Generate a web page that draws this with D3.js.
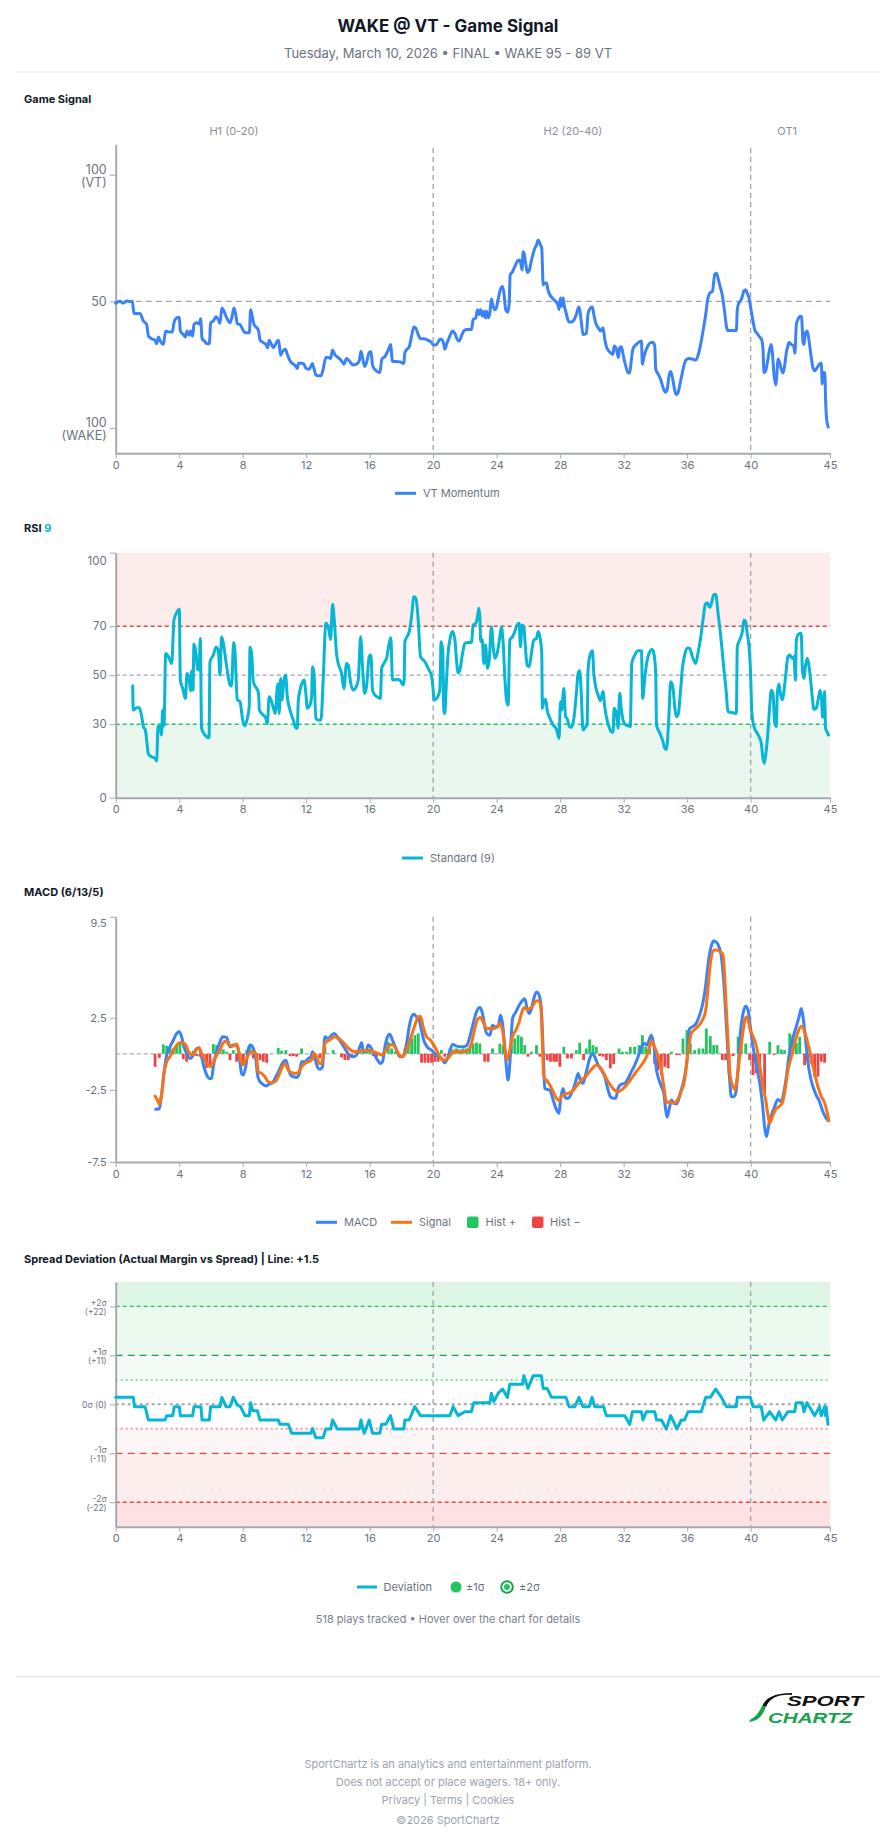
<!DOCTYPE html>
<html><head><meta charset="utf-8">
<script src="https://cdn.jsdelivr.net/npm/d3@7"></script>
<style>
body{margin:0;background:#fff;font-family:Inter,"Noto Sans",sans-serif;}
svg{display:block}
</style></head><body>
<svg id="c" width="896" height="1845"></svg>
<script>
// ---------------- DATA ----------------
const xTicks = [0,4,8,12,16,20,24,28,32,36,40,45];
const periodNames = ["H1 (0-20)","H2 (20-40)","OT1"];
const periodLabelAt = [7.45, 28.8, 42.3];
const periodBreaks = [20, 40];

const signalTicks = [0, 50, 100];
const signalTickLabels = [["100","(WAKE)"],["50"],["100","(VT)"]];
// VT momentum: 100 = VT, 0 = WAKE
const gameSignal = [[0,49.3],[0.27,50],[0.48,49.3],[0.69,50.1],[0.90,49.9],[1.05,50],[1.15,45.2],[1.53,45.2],[1.74,42.2],[1.95,40.9],[2.06,36.3],[2.27,35.2],[2.48,34.6],[2.58,33.3],[2.69,35.9],[2.83,34.1],[3.00,33.0],[3.15,38.3],[3.32,37.9],[3.57,37.9],[3.67,41.5],[3.84,43.5],[4.01,43.7],[4.07,38.3],[4.26,36.9],[4.39,35.9],[4.49,38.3],[4.62,36.6],[4.72,38.3],[4.85,36.3],[4.93,40.9],[5.10,41.5],[5.27,41.1],[5.35,43.1],[5.44,35.4],[5.62,34.1],[5.73,33.3],[5.90,33.3],[5.98,41.5],[6.15,42.2],[6.32,43.9],[6.46,42.8],[6.57,41.3],[6.69,47.4],[6.82,46.1],[6.99,43.5],[7.20,41.5],[7.37,45.2],[7.45,47.4],[7.58,44.1],[7.66,41.1],[7.83,40.9],[8.00,38.9],[8.14,37.6],[8.42,37.6],[8.50,46.7],[8.58,44.8],[8.71,40.9],[8.88,39.6],[9.00,38.5],[9.09,34.7],[9.30,33.7],[9.46,33.0],[9.57,31.7],[9.67,34.6],[9.78,33.4],[9.93,31.7],[10.05,32.8],[10.18,34.3],[10.26,34.6],[10.39,28.7],[10.51,30.2],[10.68,31.1],[10.81,29.1],[10.98,26.5],[11.19,25.2],[11.33,24.5],[11.44,23.5],[11.52,25.6],[11.71,25.6],[11.86,25.2],[11.98,23.6],[12.13,23.2],[12.24,23.6],[12.38,25.5],[12.49,23.5],[12.61,20.9],[12.76,20.6],[12.93,20.6],[13.07,23.2],[13.24,27.8],[13.39,27.8],[13.54,27.4],[13.66,30.8],[13.81,28.9],[14.02,27.8],[14.23,26.5],[14.38,25.2],[14.54,27.4],[14.75,26.2],[14.96,24.9],[15.17,25.2],[15.34,26.5],[15.45,30.3],[15.55,27.8],[15.68,24.3],[15.80,25.8],[15.97,29.8],[16.08,30.2],[16.18,24.8],[16.33,23.0],[16.47,22.3],[16.64,21.9],[16.77,27.2],[16.96,28.2],[17.10,29.8],[17.23,31.7],[17.31,33.0],[17.44,26.2],[17.65,26.2],[17.90,26.1],[18.15,25.5],[18.22,29.8],[18.36,31.1],[18.49,32.0],[18.64,36.3],[18.78,39.9],[18.91,39.3],[19.06,36.9],[19.20,35.2],[19.41,35.2],[19.69,34.6],[19.90,33.7],[20.00,32.8],[20.21,32.9],[20.42,35.0],[20.52,35.0],[20.67,33.0],[20.73,31.1],[20.88,33.7],[21.05,36.3],[21.22,38.3],[21.37,37.3],[21.51,35.0],[21.64,34.3],[21.78,36.3],[21.93,38.3],[22.10,38.9],[22.41,38.9],[22.52,42.8],[22.69,43.5],[22.79,46.7],[22.90,44.8],[22.98,46.7],[23.11,44.1],[23.19,46.1],[23.30,43.5],[23.36,46.1],[23.48,43.5],[23.57,45.4],[23.67,50.9],[23.78,48.0],[23.88,46.7],[23.99,47.7],[24.09,50.7],[24.24,54.8],[24.37,55.9],[24.47,52.6],[24.57,46.7],[24.70,45.7],[24.79,49.3],[24.85,60.4],[25.00,61.7],[25.14,63.7],[25.29,65.7],[25.42,66.3],[25.52,65.0],[25.60,62.4],[25.67,69.6],[25.73,68.9],[25.84,64.4],[25.94,61.4],[26.05,62.1],[26.15,65.0],[26.30,68.9],[26.40,70.9],[26.51,72.2],[26.61,74.2],[26.72,72.8],[26.84,70.9],[26.93,56.5],[27.03,57.2],[27.14,57.2],[27.24,54.3],[27.35,52.6],[27.56,50.9],[27.77,49.6],[27.89,48.0],[27.93,46.7],[28.02,51.3],[28.10,48.0],[28.18,51.3],[28.27,48.0],[28.40,44.8],[28.56,41.8],[28.71,41.8],[28.86,42.6],[29.02,44.8],[29.17,47.8],[29.23,46.7],[29.34,41.5],[29.44,36.9],[29.65,37.3],[29.76,45.2],[29.91,47.4],[30.03,47.8],[30.12,44.8],[30.24,41.5],[30.39,39.6],[30.56,38.3],[30.70,39.6],[30.81,35.0],[30.91,32.1],[31.06,30.4],[31.23,29.4],[31.33,29.1],[31.40,32.4],[31.54,31.3],[31.67,27.8],[31.75,31.7],[31.86,32.1],[31.96,29.1],[32.13,24.5],[32.28,21.9],[32.38,21.7],[32.49,27.2],[32.59,31.3],[32.80,33.0],[33.01,34.1],[33.12,34.3],[33.18,25.2],[33.27,27.8],[33.39,30.4],[33.54,32.6],[33.71,33.7],[33.85,33.7],[33.96,32.4],[34.02,23.2],[34.17,21.3],[34.32,19.3],[34.48,16.1],[34.63,14.1],[34.73,14.8],[34.86,20.6],[34.96,22.3],[35.11,18.7],[35.22,14.8],[35.32,13.2],[35.45,14.4],[35.57,18.0],[35.70,21.9],[35.84,25.6],[35.99,27.2],[36.16,27.4],[36.33,27.2],[36.54,26.8],[36.68,28.5],[36.83,32.4],[37.00,38.3],[37.17,44.8],[37.31,51.3],[37.46,53.5],[37.59,53.9],[37.74,60.7],[37.84,61.1],[37.95,59.1],[38.05,56.5],[38.22,52.3],[38.37,45.4],[38.47,40.2],[38.57,38.5],[39.10,38.5],[39.16,46.7],[39.25,49.3],[39.35,50.0],[39.48,52.0],[39.58,54.2],[39.69,54.6],[39.77,53.5],[39.90,51.3],[40.04,46.1],[40.15,42.2],[40.27,38.6],[40.42,37.3],[40.57,35.9],[40.69,35.0],[40.78,31.1],[40.84,21.9],[40.95,22.6],[41.05,25.8],[41.20,31.1],[41.30,33.0],[41.37,29.8],[41.47,21.3],[41.58,17.0],[41.66,21.9],[41.72,27.2],[41.83,25.8],[41.93,23.2],[42.04,21.7],[42.14,24.5],[42.25,29.8],[42.35,32.4],[42.41,33.7],[42.56,33.0],[42.71,32.4],[42.79,29.5],[42.88,40.9],[42.98,42.8],[43.13,44.1],[43.21,43.9],[43.30,33.7],[43.36,33.0],[43.46,37.6],[43.57,38.3],[43.71,33.0],[43.82,27.8],[43.92,23.9],[44.03,22.6],[44.20,23.9],[44.34,25.2],[44.45,25.6],[44.51,17.4],[44.60,21.9],[44.68,21.7],[44.72,11.5],[44.81,2.3],[44.89,0.4]];

const rsiTicks = [0,30,50,70,100];
const rsiStandard = [[1.07,45.7],[1.11,35.8],[1.32,36.7],[1.49,36.7],[1.64,33.1],[1.74,29.0],[1.87,27.6],[1.95,23.5],[2.06,17.8],[2.27,16.7],[2.48,16.1],[2.58,15.0],[2.67,29.3],[2.79,29.0],[2.88,25.6],[2.96,35.8],[3.04,29.3],[3.15,58.9],[3.32,57.6],[3.53,54.8],[3.67,72.5],[3.84,75.5],[4.01,76.9],[4.07,48.0],[4.22,44.6],[4.39,40.5],[4.49,50.7],[4.62,48.7],[4.72,43.7],[4.78,51.7],[4.87,43.9],[4.93,62.7],[5.06,58.9],[5.16,52.4],[5.25,52.1],[5.33,65.0],[5.41,28.3],[5.62,25.6],[5.73,24.9],[5.88,24.5],[5.94,55.5],[6.15,58.2],[6.32,61.4],[6.46,60.3],[6.57,50.1],[6.67,65.7],[6.78,63.0],[6.99,53.5],[7.20,46.0],[7.30,45.6],[7.43,63.3],[7.51,60.3],[7.66,39.9],[7.83,39.2],[8.00,31.7],[8.14,29.3],[8.29,32.4],[8.41,37.1],[8.46,61.4],[8.56,58.9],[8.67,47.3],[8.88,44.6],[9.00,42.6],[9.05,35.8],[9.30,33.7],[9.46,32.4],[9.55,30.3],[9.67,41.2],[9.82,39.2],[9.97,35.8],[10.05,34.4],[10.18,45.3],[10.24,46.4],[10.30,34.4],[10.39,48.7],[10.47,39.9],[10.60,48.0],[10.70,50.1],[10.81,41.2],[10.98,35.8],[11.19,31.7],[11.33,28.7],[11.44,28.3],[11.50,39.2],[11.61,43.9],[11.77,47.3],[11.86,48.0],[11.98,42.6],[12.07,36.5],[12.19,37.1],[12.34,41.2],[12.40,53.5],[12.49,50.7],[12.61,32.4],[12.76,31.7],[12.93,31.7],[13.07,48.0],[13.24,71.2],[13.39,69.8],[13.54,64.6],[13.66,79.0],[13.77,72.5],[13.91,58.9],[14.02,54.8],[14.23,50.7],[14.38,44.6],[14.54,54.8],[14.65,54.1],[14.79,47.3],[14.96,43.9],[15.13,45.0],[15.28,48.0],[15.43,65.7],[15.55,53.5],[15.68,42.6],[15.80,45.3],[15.97,57.6],[16.08,58.2],[16.18,43.9],[16.33,41.9],[16.54,41.0],[16.68,40.5],[16.75,52.8],[16.96,55.5],[17.06,56.9],[17.23,63.0],[17.33,65.3],[17.44,48.0],[17.69,48.3],[17.90,48.0],[18.11,46.0],[18.17,48.0],[18.22,63.7],[18.49,67.8],[18.64,73.9],[18.78,82.0],[18.91,81.4],[19.06,72.5],[19.20,57.6],[19.48,55.5],[19.69,52.8],[19.90,49.4],[20.00,43.9],[20.04,39.9],[20.21,40.5],[20.42,43.9],[20.50,63.7],[20.60,60.3],[20.67,35.8],[20.73,34.4],[20.84,48.0],[20.94,58.9],[21.09,65.7],[21.22,67.8],[21.37,64.4],[21.47,56.2],[21.57,51.0],[21.68,52.1],[21.85,58.9],[22.00,63.0],[22.21,63.3],[22.41,63.3],[22.52,70.5],[22.69,71.2],[22.79,73.9],[22.88,77.3],[22.94,73.9],[23.00,63.7],[23.09,64.6],[23.19,54.8],[23.30,62.3],[23.42,52.8],[23.53,56.2],[23.67,69.8],[23.78,61.6],[23.88,56.9],[24.03,58.9],[24.20,65.7],[24.30,69.8],[24.41,63.0],[24.53,47.3],[24.62,39.9],[24.72,37.8],[24.83,64.4],[25.00,65.7],[25.14,67.8],[25.29,70.5],[25.42,71.2],[25.50,61.6],[25.60,70.5],[25.71,69.8],[25.81,61.6],[25.92,54.1],[26.05,53.5],[26.19,58.9],[26.34,64.4],[26.51,65.0],[26.61,67.8],[26.76,64.4],[26.84,58.9],[26.88,36.5],[26.99,39.9],[27.09,40.1],[27.18,35.8],[27.35,32.4],[27.56,29.7],[27.77,27.9],[27.93,24.2],[28.02,39.2],[28.10,35.8],[28.23,44.6],[28.34,33.1],[28.44,32.4],[28.59,29.0],[28.71,28.7],[28.88,33.1],[29.02,42.6],[29.13,50.7],[29.23,51.8],[29.34,41.2],[29.44,27.6],[29.61,29.0],[29.70,29.7],[29.76,52.1],[29.86,57.6],[30.03,60.0],[30.12,50.7],[30.24,45.3],[30.39,41.9],[30.53,39.6],[30.70,43.3],[30.81,37.1],[30.91,33.1],[31.06,29.3],[31.23,26.9],[31.33,26.7],[31.40,36.5],[31.54,34.4],[31.65,28.3],[31.75,42.6],[31.86,35.8],[31.96,31.7],[32.13,29.7],[32.34,29.3],[32.42,29.0],[32.51,54.8],[32.70,58.2],[32.91,60.0],[33.12,60.0],[33.20,40.5],[33.33,48.7],[33.43,54.1],[33.60,58.9],[33.79,60.5],[33.90,58.9],[34.02,50.7],[34.07,29.7],[34.28,26.3],[34.45,23.5],[34.60,20.1],[34.69,19.7],[34.84,31.7],[34.96,47.3],[35.11,44.6],[35.22,37.1],[35.32,33.1],[35.45,34.4],[35.57,42.6],[35.70,52.8],[35.84,58.2],[35.99,61.0],[36.16,61.0],[36.33,57.6],[36.54,54.8],[36.68,58.9],[36.83,64.4],[37.00,72.5],[37.15,79.0],[37.27,79.6],[37.42,77.7],[37.53,79.3],[37.67,82.7],[37.80,83.0],[37.95,75.2],[38.12,65.7],[38.30,53.5],[38.47,42.6],[38.57,35.1],[38.89,34.7],[39.10,34.4],[39.16,61.6],[39.31,64.4],[39.48,67.8],[39.58,72.5],[39.69,71.8],[39.77,67.8],[39.90,61.6],[39.98,53.5],[40.08,34.4],[40.21,29.0],[40.36,26.9],[40.53,24.9],[40.67,22.2],[40.78,16.1],[40.86,14.0],[40.95,17.4],[41.09,26.9],[41.20,37.1],[41.30,43.9],[41.41,42.6],[41.51,31.0],[41.62,29.0],[41.68,42.6],[41.78,46.4],[41.87,42.6],[41.99,39.9],[42.08,42.6],[42.20,49.4],[42.35,57.6],[42.46,58.2],[42.62,56.9],[42.73,57.6],[42.82,48.0],[42.88,64.4],[43.03,66.8],[43.19,67.1],[43.26,52.1],[43.36,48.7],[43.46,54.1],[43.57,56.9],[43.67,54.1],[43.78,48.0],[43.88,41.2],[43.99,36.1],[44.13,36.5],[44.28,41.0],[44.38,43.9],[44.47,39.9],[44.53,32.8],[44.60,35.8],[44.66,43.3],[44.72,28.3],[44.81,26.9],[44.91,25.6]];

const macdTicks = [-7.5,-2.5,2.5,9.5];
const macdLine = [[2.52,-3.85],[2.75,-3.80],[2.90,-2.74],[3.04,-1.36],[3.21,-0.09],[3.42,0.48],[3.63,0.94],[3.84,1.41],[4.01,1.52],[4.15,1.18],[4.30,0.48],[4.47,0.02],[4.68,-0.32],[4.89,-0.09],[5.10,0.37],[5.27,0.37],[5.41,-0.21],[5.56,-0.90],[5.73,-1.47],[5.90,-1.71],[6.04,-1.71],[6.15,-0.90],[6.32,0.02],[6.53,0.71],[6.74,1.18],[6.99,1.13],[7.20,0.48],[7.41,0.60],[7.62,0.60],[7.79,-0.21],[7.93,-1.36],[8.04,-1.47],[8.21,-0.78],[8.36,0.37],[8.50,0.60],[8.67,0.37],[8.84,-0.44],[8.92,-1.36],[9.05,-1.87],[9.26,-2.10],[9.46,-2.24],[9.67,-2.10],[9.88,-2.00],[10.09,-1.59],[10.30,-1.13],[10.51,-0.62],[10.72,-0.44],[10.87,-1.01],[11.02,-1.47],[11.19,-1.59],[11.40,-1.64],[11.54,-1.47],[11.71,-0.55],[11.92,-0.55],[12.13,-0.32],[12.28,-0.25],[12.40,0.14],[12.55,-0.32],[12.72,-0.94],[12.86,-1.08],[13.03,-0.90],[13.18,1.18],[13.39,1.06],[13.60,1.29],[13.77,1.41],[13.96,1.18],[14.17,0.83],[14.44,0.37],[14.71,-0.09],[14.96,-0.21],[15.17,-0.09],[15.38,0.48],[15.49,0.76],[15.59,0.25],[15.76,0.14],[15.91,0.60],[16.05,0.48],[16.26,0.02],[16.47,-0.39],[16.68,-0.67],[16.81,-0.55],[16.96,0.48],[17.12,1.18],[17.27,1.36],[17.44,0.94],[17.69,0.25],[17.90,-0.21],[18.07,-0.21],[18.22,0.14],[18.36,0.94],[18.49,1.87],[18.64,2.56],[18.78,2.74],[18.95,2.56],[19.12,2.33],[19.26,1.64],[19.41,0.94],[19.62,0.48],[19.90,0.25],[20.10,0.02],[20.31,-0.21],[20.52,-0.32],[20.73,-0.62],[20.94,-0.21],[21.22,0.65],[21.47,0.53],[21.78,0.48],[22.10,0.55],[22.31,1.18],[22.52,2.10],[22.73,2.90],[22.94,3.20],[23.11,2.79],[23.25,1.87],[23.40,1.36],[23.57,1.29],[23.74,1.98],[23.88,1.87],[24.09,1.87],[24.24,2.67],[24.37,2.10],[24.51,0.48],[24.62,-1.01],[24.72,-1.82],[24.83,-0.67],[25.00,2.44],[25.21,2.90],[25.42,3.36],[25.63,3.71],[25.77,3.82],[25.92,3.13],[26.05,2.79],[26.19,3.13],[26.34,3.82],[26.51,4.29],[26.68,4.06],[26.82,3.02],[26.93,0.25],[27.03,-2.40],[27.18,-2.47],[27.35,-2.51],[27.56,-3.20],[27.77,-3.89],[27.93,-4.12],[28.02,-3.20],[28.18,-2.40],[28.35,-3.09],[28.50,-3.09],[28.71,-2.74],[28.92,-2.17],[29.13,-1.36],[29.27,-1.82],[29.44,-2.05],[29.65,-1.24],[29.86,-0.32],[30.03,0.02],[30.18,-0.21],[30.39,-0.78],[30.60,-1.13],[30.81,-1.59],[31.02,-2.51],[31.16,-2.97],[31.33,-3.09],[31.50,-3.09],[31.65,-2.40],[31.86,-2.10],[32.07,-2.05],[32.28,-1.71],[32.49,-1.24],[32.70,-0.78],[32.91,-0.21],[33.12,0.48],[33.33,0.71],[33.48,0.60],[33.60,0.94],[33.75,1.29],[33.90,0.60],[34.07,-1.13],[34.23,-1.82],[34.38,-2.28],[34.53,-2.74],[34.65,-3.89],[34.74,-4.40],[34.86,-3.89],[35.01,-3.20],[35.15,-3.39],[35.32,-3.48],[35.49,-3.09],[35.63,-2.51],[35.84,-1.59],[35.99,-0.44],[36.16,1.75],[36.33,1.87],[36.54,2.05],[36.75,2.56],[36.96,3.36],[37.13,4.40],[37.25,5.55],[37.38,6.71],[37.53,7.51],[37.67,7.81],[37.84,7.74],[38.01,7.40],[38.16,6.71],[38.30,5.09],[38.43,2.79],[38.57,0.02],[38.68,-1.82],[38.78,-2.97],[38.93,-2.97],[39.06,-2.74],[39.21,-0.90],[39.35,1.41],[39.52,2.79],[39.69,3.29],[39.84,3.02],[39.98,1.87],[40.15,0.48],[40.32,-0.55],[40.46,-1.36],[40.61,-2.28],[40.74,-3.43],[40.88,-5.05],[40.99,-5.74],[41.09,-5.28],[41.20,-4.59],[41.35,-4.12],[41.51,-3.66],[41.72,-3.16],[41.93,-3.32],[42.08,-2.74],[42.25,-1.59],[42.41,-0.21],[42.62,0.94],[42.84,1.75],[43.05,2.56],[43.19,3.13],[43.30,2.56],[43.44,1.18],[43.61,-0.55],[43.76,-1.59],[43.93,-2.28],[44.13,-2.86],[44.34,-3.32],[44.55,-4.01],[44.72,-4.40],[44.89,-4.63]];

const signalLine = [[2.48,-2.93],[2.62,-3.20],[2.75,-3.48],[2.90,-2.74],[3.04,-1.36],[3.21,-0.55],[3.42,-0.21],[3.63,0.25],[3.84,0.60],[4.05,0.78],[4.26,0.76],[4.47,0.48],[4.64,0.02],[4.85,-0.09],[5.06,0.25],[5.25,0.44],[5.41,0.02],[5.62,-0.44],[5.83,-0.78],[5.98,-0.90],[6.15,-0.55],[6.36,-0.09],[6.57,0.25],[6.74,0.71],[6.95,0.88],[7.16,0.60],[7.37,0.53],[7.62,0.67],[7.79,0.02],[8.00,-0.78],[8.21,-0.44],[8.42,0.02],[8.63,0.14],[8.84,0.02],[8.98,-1.24],[9.19,-1.36],[9.40,-1.59],[9.61,-1.94],[9.82,-2.00],[10.03,-1.94],[10.24,-1.59],[10.45,-1.01],[10.66,-0.67],[10.87,-1.13],[11.08,-1.31],[11.29,-1.36],[11.50,-1.31],[11.71,-0.90],[11.92,-0.67],[12.13,-0.55],[12.34,-0.44],[12.49,0.02],[12.66,-0.21],[12.83,-0.67],[12.97,-0.67],[13.18,0.71],[13.39,0.90],[13.60,1.06],[13.81,1.18],[14.02,1.06],[14.30,0.83],[14.54,0.53],[14.86,0.21],[15.17,0.14],[15.49,0.21],[15.80,0.21],[16.01,0.25],[16.26,0.14],[16.54,0.02],[16.75,-0.09],[16.96,0.14],[17.17,0.48],[17.38,0.65],[17.59,0.48],[17.80,0.02],[18.01,-0.21],[18.22,0.02],[18.43,0.60],[18.64,1.29],[18.85,1.98],[19.06,2.56],[19.20,2.60],[19.37,1.87],[19.58,1.18],[19.79,0.99],[20.00,0.67],[20.21,0.25],[20.42,-0.21],[20.63,-0.44],[20.84,-0.40],[21.05,-0.16],[21.26,0.14],[21.57,0.14],[21.89,0.14],[22.21,0.25],[22.41,0.71],[22.62,1.75],[22.83,2.44],[22.98,2.51],[23.15,2.21],[23.36,1.75],[23.57,1.75],[23.78,1.75],[23.99,1.82],[24.20,2.10],[24.37,1.64],[24.51,0.37],[24.66,-0.44],[24.83,0.25],[25.00,1.18],[25.21,1.64],[25.42,2.21],[25.63,3.02],[25.77,3.20],[25.92,3.06],[26.09,3.13],[26.30,3.36],[26.46,3.66],[26.68,3.66],[26.78,3.25],[26.89,0.48],[26.97,-1.59],[27.14,-1.82],[27.35,-2.17],[27.56,-2.63],[27.77,-3.09],[27.93,-3.25],[28.08,-2.97],[28.29,-2.79],[28.50,-2.74],[28.71,-2.63],[28.92,-2.40],[29.13,-2.10],[29.34,-1.82],[29.55,-1.64],[29.76,-1.36],[30.03,-1.01],[30.28,-0.78],[30.49,-0.90],[30.70,-1.24],[30.91,-1.71],[31.12,-2.10],[31.37,-2.47],[31.65,-2.63],[31.92,-2.47],[32.17,-2.17],[32.49,-1.71],[32.80,-1.24],[33.12,-0.78],[33.43,-0.21],[33.60,0.37],[33.75,0.90],[33.90,0.60],[34.11,0.02],[34.28,-0.55],[34.44,-1.59],[34.59,-2.74],[34.69,-3.39],[34.90,-3.32],[35.11,-3.43],[35.32,-3.32],[35.57,-2.74],[35.84,-1.82],[36.05,0.02],[36.26,1.41],[36.54,1.75],[36.75,1.98],[36.96,2.33],[37.17,3.02],[37.32,4.63],[37.46,6.24],[37.63,7.12],[37.80,7.21],[38.01,7.12],[38.22,6.94],[38.30,6.47],[38.43,3.94],[38.57,0.94],[38.72,-1.59],[38.89,-2.28],[39.02,-2.47],[39.14,-1.82],[39.31,-0.21],[39.48,1.18],[39.63,2.33],[39.73,2.56],[39.84,2.33],[39.98,1.64],[40.15,1.18],[40.32,0.71],[40.46,0.02],[40.61,-1.13],[40.78,-2.28],[40.95,-3.20],[41.09,-4.24],[41.20,-4.82],[41.37,-4.35],[41.58,-3.85],[41.79,-3.66],[42.00,-3.39],[42.20,-2.28],[42.35,-1.13],[42.56,-0.21],[42.77,0.71],[42.98,1.52],[43.19,1.91],[43.40,1.52],[43.61,0.71],[43.82,-0.32],[44.03,-1.36],[44.24,-2.28],[44.45,-2.97],[44.66,-3.39],[44.81,-4.01],[44.93,-4.63]];

const macdHist = [[2.48,-0.90],[2.75,-0.28],[3.00,0.65],[3.21,0.55],[3.42,0.48],[3.63,0.37],[3.84,0.60],[4.05,0.71],[4.26,-0.37],[4.47,-0.55],[4.68,0.14],[4.89,0.20],[5.10,-0.16],[5.31,-0.20],[5.52,-0.44],[5.73,-0.97],[5.94,-0.90],[6.15,0.67],[6.36,0.60],[6.57,0.37],[6.78,0.30],[6.99,0.14],[7.20,-0.44],[7.41,0.25],[7.62,-0.55],[7.83,-0.44],[8.04,-0.62],[8.25,0.25],[8.46,0.48],[8.67,-0.32],[8.88,-0.55],[9.09,-0.44],[9.30,-0.55],[9.51,-0.62],[10.24,0.41],[10.45,0.20],[10.72,0.25],[10.98,-0.16],[11.19,-0.16],[11.40,-0.20],[11.71,0.37],[12.34,-0.16],[12.55,-0.44],[12.86,-0.32],[13.18,0.48],[13.70,0.25],[14.23,-0.25],[14.44,-0.44],[14.65,-0.44],[14.86,-0.16],[15.38,0.25],[15.59,0.14],[15.80,0.14],[16.01,0.25],[16.22,-0.16],[16.43,-0.20],[17.17,0.83],[17.38,0.37],[17.59,0.14],[17.90,-0.16],[18.22,0.37],[18.43,0.83],[18.64,1.06],[18.85,1.29],[19.06,1.41],[19.27,-0.62],[19.48,-0.62],[19.69,-0.62],[19.90,-0.62],[20.10,-0.55],[20.31,-0.55],[20.52,0.25],[20.73,-0.20],[21.05,0.37],[21.26,0.30],[21.47,0.37],[21.68,0.30],[21.89,0.37],[22.10,0.37],[22.31,0.48],[22.52,0.71],[22.73,0.78],[22.94,0.71],[23.25,-0.55],[23.46,-0.55],[23.74,0.37],[24.20,0.71],[24.41,0.60],[24.93,0.60],[25.14,1.06],[25.35,1.29],[25.56,1.18],[25.77,0.60],[25.98,-0.20],[26.19,0.14],[26.51,0.60],[26.72,-0.20],[26.93,-0.55],[27.18,-0.44],[27.39,-0.55],[27.60,-0.55],[27.77,-0.55],[27.98,-0.90],[28.23,0.48],[28.46,-0.32],[28.71,-0.32],[29.02,0.25],[29.23,0.76],[29.48,-0.44],[29.65,0.37],[29.86,0.99],[30.07,0.60],[30.28,0.48],[30.49,-0.16],[30.70,-0.20],[30.91,-0.44],[31.16,-1.01],[31.37,-0.71],[31.71,0.37],[31.92,0.14],[32.17,0.14],[32.42,0.48],[32.69,0.48],[32.97,0.60],[33.18,1.29],[33.39,0.48],[33.64,0.37],[33.95,-0.67],[34.16,-1.13],[34.37,-1.47],[34.59,-0.90],[34.80,-1.01],[35.01,0.14],[35.32,-0.09],[35.53,-0.09],[35.74,1.06],[35.99,1.64],[36.20,0.71],[36.47,0.25],[36.75,0.37],[37.00,0.37],[37.21,1.75],[37.46,1.22],[37.67,0.60],[37.88,0.60],[38.22,-0.44],[38.43,-0.44],[38.64,-1.36],[38.89,-0.16],[39.21,1.18],[39.41,1.87],[39.69,0.71],[39.94,-0.44],[40.15,-1.47],[40.36,-1.36],[40.57,-1.36],[40.88,-2.74],[41.20,0.83],[41.47,-0.09],[41.72,0.60],[41.93,0.30],[42.14,0.25],[42.46,1.41],[42.67,1.29],[42.88,0.76],[43.09,1.18],[43.40,-0.78],[43.61,-0.55],[43.82,-0.67],[44.03,-1.59],[44.24,-1.59],[44.45,-0.55],[44.66,-0.62]];

const sigmaPts = 11;
const devTicks = [-22,-11,0,11,22];
const devTickLabels = [["-2σ","(-22)"],["-1σ","(-11)"],["0σ (0)"],["+1σ","(+11)"],["+2σ","(+22)"]];
const deviation = [[0,1.57],[1.11,1.57],[1.18,-0.52],[1.85,-0.52],[2.06,-3.52],[3.11,-3.52],[3.21,-2.54],[3.59,-2.54],[3.69,-0.52],[4.01,-0.52],[4.07,-2.54],[4.85,-2.54],[4.93,-0.52],[5.37,-0.52],[5.44,-3.52],[5.90,-3.52],[5.98,-0.52],[6.57,-0.52],[6.69,1.57],[6.95,-0.52],[7.20,-0.52],[7.41,1.57],[7.66,-0.15],[7.87,-0.52],[8.14,-2.54],[8.42,-2.54],[8.50,0.37],[8.63,-1.42],[8.92,-1.42],[9.09,-3.52],[10.24,-3.52],[10.35,-4.49],[10.87,-4.49],[11.08,-6.51],[12.28,-6.51],[12.40,-5.46],[12.61,-7.49],[13.07,-7.49],[13.24,-5.54],[13.54,-5.54],[13.66,-3.52],[13.96,-5.54],[15.34,-5.54],[15.45,-3.52],[15.66,-6.51],[15.97,-3.52],[16.18,-6.51],[16.64,-6.51],[16.75,-4.49],[17.02,-4.49],[17.31,-2.54],[17.52,-5.54],[18.15,-5.54],[18.22,-3.52],[18.49,-3.52],[18.84,-0.52],[19.20,-2.54],[21.05,-2.54],[21.26,-0.52],[21.57,-2.54],[21.99,-1.65],[22.41,-1.65],[22.56,0.37],[23.57,0.37],[23.67,2.47],[23.82,0.60],[24.09,2.47],[24.37,3.44],[24.68,1.57],[24.83,4.49],[25.63,4.49],[25.71,6.44],[25.97,3.59],[26.30,6.44],[26.82,6.44],[26.93,3.59],[27.18,3.59],[27.46,1.57],[28.36,1.57],[28.57,-0.52],[28.92,-0.52],[29.19,1.57],[29.44,-0.52],[29.82,-0.52],[30.01,1.57],[30.18,-0.52],[30.74,-0.52],[30.91,-2.54],[32.07,-2.54],[32.38,-4.49],[32.55,-1.65],[33.12,-1.65],[33.22,-3.52],[33.43,-1.65],[33.96,-1.65],[34.07,-3.52],[34.38,-3.52],[34.69,-5.54],[34.96,-2.54],[35.36,-5.54],[35.63,-3.52],[35.84,-3.52],[36.05,-1.65],[36.89,-1.65],[37.17,1.57],[37.46,1.57],[37.80,3.44],[38.16,1.57],[38.47,-0.52],[39.10,-0.52],[39.16,1.57],[39.98,1.57],[40.15,-0.52],[40.67,-0.52],[40.82,-3.52],[41.20,-1.65],[41.58,-3.52],[41.79,-1.65],[41.99,-3.52],[42.35,-1.65],[42.77,-1.65],[42.88,0.37],[43.25,0.37],[43.36,-1.65],[43.55,0.37],[43.76,-0.90],[44.03,-2.54],[44.34,-0.52],[44.45,-2.54],[44.66,-0.52],[44.72,-2.54],[44.76,-0.52],[44.87,-4.49]];

const playsTracked = 518;

// ---------------- DRAW ----------------
const svg = d3.select('#c');
const FONT = 'Inter, "Noto Sans", sans-serif';
const AX = '#a5a9b0', TXT = '#6b7280';
const xL = 115.7, xR = 830;
const x = d3.scaleLinear().domain([0,45]).range([xL,xR]);

function txt(g, xx, yy, s, o={}) {
  return g.append('text').attr('x',xx).attr('y',yy).text(s)
    .attr('font-family',FONT).attr('font-size',o.size||11)
    .attr('font-weight',o.weight||400).attr('fill',o.fill||TXT)
    .attr('text-anchor',o.anchor||'start').attr('dominant-baseline','central');
}
function xAxis(yPos){
  const a = svg.append('g').attr('transform',`translate(0,${yPos})`)
    .call(d3.axisBottom(x).tickValues(xTicks).tickSize(5).tickSizeOuter(0).tickPadding(3));
  a.select('.domain').attr('stroke',AX).attr('stroke-width',2);
  a.selectAll('.tick line').attr('stroke',AX);
  a.selectAll('.tick text').attr('fill',TXT).attr('font-family',FONT).attr('font-size',11);
}
function yAxis(y, ticks, size, fmt){
  const a = svg.append('g').attr('transform',`translate(${xL},0)`)
    .call(d3.axisLeft(y).tickValues(ticks).tickSize(6).tickSizeOuter(0).tickPadding(3).tickFormat(fmt||(d=>d)));
  a.select('.domain').attr('stroke',AX).attr('stroke-width',2);
  a.selectAll('.tick line').attr('stroke',AX);
  a.selectAll('.tick text').attr('fill',TXT).attr('font-family',FONT).attr('font-size',size);
  return a;
}
// two-line tick labels as separate text elements
function twoLineLabels(a, ticks, labels, size, up, gap){
  a.selectAll('.tick').each(function(d){
    const tk = d3.select(this);
    tk.select('text').remove();
    const lab = labels[ticks.indexOf(d)];
    const mk = (yy, s) => tk.append('text').attr('x',-9).attr('y',yy).text(s)
      .attr('font-family',FONT).attr('font-size',size).attr('fill',TXT)
      .attr('text-anchor','end').attr('dominant-baseline','central');
    if (lab.length === 1) mk(0, lab[0]);
    else { mk(-up, lab[0]); mk(-up+gap, lab[1]); }
  });
}
function hline(y0, color, dash, w){
  svg.append('line').attr('x1',xL).attr('x2',xR).attr('y1',y0).attr('y2',y0)
    .attr('stroke',color).attr('stroke-dasharray',dash).attr('stroke-width',w||1.3);
}
function periodLines(top, bottom){
  periodBreaks.forEach(p=>{
    svg.append('line').attr('x1',x(p)).attr('x2',x(p)).attr('y1',top).attr('y2',bottom)
      .attr('stroke','#9ca3af').attr('stroke-dasharray','5,4').attr('stroke-width',1.3);
  });
}
function path(data, xs, ys, color, curve, w){
  svg.append('path').datum(data)
    .attr('d', d3.line().x(d=>xs(d[0])).y(d=>ys(d[1])).curve(curve))
    .attr('fill','none').attr('stroke',color).attr('stroke-width',w||3)
    .attr('stroke-linejoin','round').attr('stroke-linecap','round');
}
function legendLine(x0, yy, color, label){
  svg.append('line').attr('x1',x0).attr('x2',x0+21).attr('y1',yy).attr('y2',yy)
    .attr('stroke',color).attr('stroke-width',3);
  txt(svg, x0+28, yy, label, {size:11});
}

// Header
txt(svg, 448, 26, 'WAKE @ VT - Game Signal', {size:17, weight:700, fill:'#111827', anchor:'middle'});
txt(svg, 448, 53, 'Tuesday, March 10, 2026 • FINAL • WAKE 95 - 89 VT', {size:13, fill:'#6b7280', anchor:'middle'});
svg.append('line').attr('x1',16).attr('x2',880).attr('y1',72).attr('y2',72).attr('stroke','#e5e7eb').attr('stroke-width',1.2);

// ===== Game Signal =====
txt(svg, 24, 99, 'Game Signal', {size:11, weight:700, fill:'#111827'});
const yS = d3.scaleLinear().domain([-10,112]).range([453.3,144.3]);
periodNames.forEach((n,i)=> txt(svg, x(periodLabelAt[i]), 130.5, n, {size:11, fill:'#8b9099', anchor:'middle'}));
hline(yS(50), '#9ca3af', '6,4', 1.3);
periodLines(148, 453.3);
const aS = yAxis(yS, signalTicks, 13);
twoLineLabels(aS, signalTicks, signalTickLabels, 12.5, 5.5, 12.6);
xAxis(453.3);
path(gameSignal, x, yS, '#3b82f6', d3.curveMonotoneX, 3);
legendLine(395, 493.3, '#3b82f6', 'VT Momentum');

// ===== RSI =====
const rsiTitle = svg.append('text').attr('x',24).attr('y',527.7).attr('dominant-baseline','central')
  .attr('font-family',FONT).attr('font-size',11).attr('font-weight',700).attr('fill','#111827');
rsiTitle.append('tspan').text('RSI ');
rsiTitle.append('tspan').attr('fill','#06b6d4').text('9');
const yR = d3.scaleLinear().domain([0,100]).range([797.7,552.7]);
svg.append('rect').attr('x',xL).attr('width',xR-xL).attr('y',yR(100)).attr('height',yR(70)-yR(100)).attr('fill','#fdecec');
svg.append('rect').attr('x',xL).attr('width',xR-xL).attr('y',yR(30)).attr('height',yR(0)-yR(30)).attr('fill','#e9f7ee');
hline(yR(70), '#ef4444', '4,3', 1.4);
hline(yR(50), '#9ca3af', '4,3', 1.3);
hline(yR(30), '#22c55e', '4,3', 1.4);
periodLines(552.7, 797.7);
const aR = yAxis(yR, rsiTicks, 11.5);
aR.selectAll('.tick text').filter(d=>d===100).attr('dy','1em');
xAxis(797.7);
path(rsiStandard, x, yR, '#06b6d4', d3.curveMonotoneX, 3);
legendLine(402, 858, '#06b6d4', 'Standard (9)');

// ===== MACD =====
txt(svg, 24, 892.3, 'MACD (6/13/5)', {size:11, weight:700, fill:'#111827'});
const yM = d3.scaleLinear().domain([-7.5,9.5]).range([1162,916.7]);
hline(yM(0), '#a8acb3', '4,3', 1.3);
periodLines(916.7, 1162);
const aM = yAxis(yM, macdTicks, 11);
aM.selectAll('.tick text').filter(d=>d===9.5).attr('dy','0.85em');
xAxis(1162);
svg.append('g').selectAll('rect').data(macdHist).join('rect')
  .attr('x', d=>x(d[0])-1.4).attr('width',2.8)
  .attr('y', d=> d[1]>=0 ? yM(d[1]) : yM(0))
  .attr('height', d=> Math.abs(yM(d[1])-yM(0)))
  .attr('fill', d=> d[1]>=0 ? '#22c55e' : '#ef4444');
path(macdLine, x, yM, '#3b82f6', d3.curveMonotoneX, 3);
path(signalLine, x, yM, '#f97316', d3.curveMonotoneX, 3);
legendLine(316, 1222.3, '#3b82f6', 'MACD');
legendLine(391, 1222.3, '#f97316', 'Signal');
svg.append('rect').attr('x',467).attr('y',1216.6).attr('width',11.5).attr('height',11.5).attr('rx',2).attr('fill','#22c55e');
txt(svg, 485.5, 1222.3, 'Hist +', {size:11});
svg.append('rect').attr('x',532).attr('y',1216.6).attr('width',11.5).attr('height',11.5).attr('rx',2).attr('fill','#ef4444');
txt(svg, 550, 1222.3, 'Hist −', {size:11});

// ===== Spread Deviation =====
txt(svg, 24, 1258.6, 'Spread Deviation (Actual Margin vs Spread) | Line: +1.5', {size:11, weight:700, fill:'#111827'});
const yD = d3.scaleLinear().domain([-27.5,27.5]).range([1526.7,1282]);
const bands = [[2*sigmaPts,27.5,'#dcf5e4'],[sigmaPts,2*sigmaPts,'#ebf9ef'],[sigmaPts/2,sigmaPts,'#f4fbf6'],
  [-sigmaPts,-sigmaPts/2,'#fdf6f6'],[-2*sigmaPts,-sigmaPts,'#fdeeee'],[-27.5,-2*sigmaPts,'#fde2e3']];
bands.forEach(b=> svg.append('rect').attr('x',xL).attr('width',xR-xL).attr('y',yD(b[1])).attr('height',yD(b[0])-yD(b[1])).attr('fill',b[2]));
hline(yD(2*sigmaPts), '#22c55e', '4,3', 1.3);
hline(yD(sigmaPts), '#16a34a', '7,5', 1.3);
hline(yD(sigmaPts/2), '#86e0a4', '2,3', 2);
hline(yD(0), '#a1a5ad', '3,3', 2);
hline(yD(-sigmaPts/2), '#f59a9a', '2,3', 2);
hline(yD(-sigmaPts), '#e04848', '7,5', 1.3);
hline(yD(-2*sigmaPts), '#ef4444', '4,3', 1.3);
periodLines(1282, 1526.7);
const aD = yAxis(yD, devTicks, 9);
twoLineLabels(aD, devTicks, devTickLabels, 8.5, 4.2, 9.2);
xAxis(1526.7);
path(deviation, x, yD, '#06b6d4', d3.curveLinear, 3);
svg.append('line').attr('x1',357).attr('x2',377).attr('y1',1587).attr('y2',1587).attr('stroke','#06b6d4').attr('stroke-width',3);
txt(svg, 383.5, 1587, 'Deviation', {size:11});
svg.append('circle').attr('cx',456).attr('cy',1587).attr('r',5.5).attr('fill','#22c55e');
txt(svg, 466, 1587, '±1σ', {size:11});
svg.append('circle').attr('cx',507).attr('cy',1587).attr('r',5.8).attr('fill','none').attr('stroke','#16a34a').attr('stroke-width',2);
svg.append('circle').attr('cx',507).attr('cy',1587).attr('r',3).attr('fill','#22c55e');
txt(svg, 519, 1587, '±2σ', {size:11});

txt(svg, 448, 1619, `${playsTracked} plays tracked • Hover over the chart for details`, {size:11, fill:'#7b818b', anchor:'middle'});

// Footer
svg.append('line').attr('x1',16).attr('x2',880).attr('y1',1676.6).attr('y2',1676.6).attr('stroke','#e5e7eb').attr('stroke-width',1.2);
const logo = svg.append('g');
logo.append('path').attr('d','M792 1695 C 778 1694, 770 1698, 766 1707 L 762 1707 C 765 1698, 774 1693, 792 1693 Z').attr('fill','#111');
logo.append('path').attr('d','M766 1706 C 763 1716, 758 1721, 749 1722 L 751 1719 C 756 1717, 759 1712, 762 1706 Z').attr('fill','#16a34a');
logo.append('text').attr('x',787).attr('y',1705.5).text('SPORT').attr('font-family','"Liberation Sans", Arial, sans-serif')
  .attr('font-style','italic').attr('font-weight',700).attr('font-size',15.5).attr('fill','#111').attr('textLength',76).attr('lengthAdjust','spacingAndGlyphs');
logo.append('text').attr('x',768).attr('y',1723).text('CHARTZ').attr('font-family','"Liberation Sans", Arial, sans-serif')
  .attr('font-style','italic').attr('font-weight',700).attr('font-size',14).attr('fill','#16a34a').attr('textLength',84).attr('lengthAdjust','spacingAndGlyphs');

txt(svg, 448, 1763.7, 'SportChartz is an analytics and entertainment platform.', {size:11, fill:'#9ca3af', anchor:'middle'});
txt(svg, 448, 1781.5, 'Does not accept or place wagers. 18+ only.', {size:11, fill:'#9ca3af', anchor:'middle'});
txt(svg, 448, 1800, 'Privacy  |  Terms  |  Cookies', {size:11, fill:'#9ca3af', anchor:'middle'});
txt(svg, 448, 1820, '©2026 SportChartz', {size:11, fill:'#9ca3af', anchor:'middle'});
</script>
</body></html>
